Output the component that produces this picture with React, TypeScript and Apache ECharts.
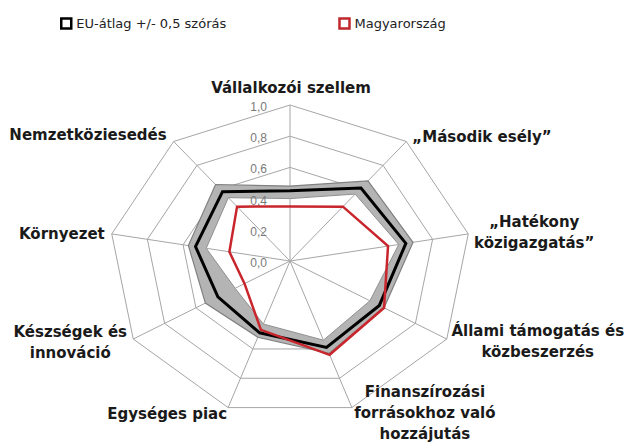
import React, { useEffect, useRef } from 'react';
import * as echarts from 'echarts';

// ---- data ----
const indicators = [
  'Vállalkozói szellem',
  '„Második esély”',
  '„Hatékony\nközigazgatás”',
  'Állami támogatás és\nközbeszerzés',
  'Finanszírozási\nforrásokhoz való\nhozzájutás',
  'Egységes piac',
  'Készségek és\ninnováció',
  'Környezet',
  'Nemzetköziesedés',
];
const euMean = [0.45, 0.61, 0.65, 0.57, 0.59, 0.49, 0.46, 0.53, 0.58];
const euUpper = [0.48, 0.67, 0.69, 0.6, 0.63, 0.52, 0.54, 0.57, 0.64];
const euLower = [0.4, 0.56, 0.61, 0.51, 0.54, 0.43, 0.35, 0.47, 0.53];
const hungary = [0.35, 0.455, 0.55, 0.6, 0.64, 0.47, 0.29, 0.34, 0.455];
const tickValues = [0, 0.2, 0.4, 0.6, 0.8, 1.0];
const tickLabels = ['0,0', '0,2', '0,4', '0,6', '0,8', '1,0'];
const ringValues = [0.2, 0.4, 0.6, 0.8, 1.0];
const legendNames = ['EU-átlag +/- 0,5 szórás', 'Magyarország'];

// ---- layout ----
const W = 625;
const H = 445;
const CX = 290;
const CY = 261;
const RX = 181;
const RY = 156;
const labelLayout: [number, number, string][] = [
  [1, -17, 'center'],
  [6, -4, 'left'],
  [66, -1, 'center'],
  [91, 2, 'center'],
  [73, 5, 'center'],
  [-1, 6, 'right'],
  [-63, 3, 'center'],
  [-7, 0, 'right'],
  [-7, -6, 'right'],
];

const GRID = '#a6a6a6';
const N = indicators.length;

function polar(v: number, i: number): [number, number] {
  const a = ((90 - (i * 360) / N) * Math.PI) / 180;
  return [v * Math.cos(a), v * Math.sin(a)];
}

function pts(api: any, vals: number[]) {
  return vals.map((v, i) => api.coord(polar(v, i)));
}

export default function App() {
  const ref = useRef<HTMLDivElement>(null);
  useEffect(() => {
    const chart = echarts.init(ref.current!, null, { renderer: 'svg' });
    const base = {
      type: 'custom',
      coordinateSystem: 'cartesian2d',
      data: [[0, 0]],
      clip: false,
      silent: true,
    };
    const option: any = {
      animation: false,
      backgroundColor: '#fff',
      grid: { left: 0, right: 0, top: 0, bottom: 0 },
      xAxis: { type: 'value', min: -CX / RX, max: (W - CX) / RX, show: false },
      yAxis: { type: 'value', min: -(H - CY) / RY, max: CY / RY, show: false },
      legend: {
        left: 55,
        top: 12,
        itemWidth: 10,
        itemHeight: 10,
        itemGap: 112,
        selectedMode: false,
        textStyle: { fontFamily: 'DejaVu Sans', fontSize: 13, color: '#222' },
        data: [
          { name: legendNames[0], icon: 'rect', itemStyle: { color: '#fff', borderColor: '#000', borderWidth: 2.5 } },
          { name: legendNames[1], icon: 'rect', itemStyle: { color: '#fff', borderColor: '#c0272d', borderWidth: 2.5 } },
        ],
      },
      series: [
        {
          ...base,
          name: 'grid',
          z: 1,
          renderItem: (_p: any, api: any) => {
            const c = api.coord([0, 0]);
            const children: any[] = [];
            ringValues.forEach((r) => {
              children.push({
                type: 'polygon',
                shape: { points: pts(api, indicators.map(() => r)) },
                style: { fill: 'none', stroke: GRID, lineWidth: 1 },
              });
            });
            indicators.forEach((_n, i) => {
              const e = api.coord(polar(1, i));
              children.push({
                type: 'line',
                shape: { x1: c[0], y1: c[1], x2: e[0], y2: e[1] },
                style: { stroke: GRID, lineWidth: 1 },
              });
            });
            return { type: 'group', children };
          },
        },
        {
          ...base,
          name: 'upper',
          z: 2,
          renderItem: (_p: any, api: any) => ({
            type: 'polygon',
            shape: { points: pts(api, euUpper) },
            style: { fill: '#b4b4b4', stroke: '#808080', lineWidth: 1.2 },
          }),
        },
        {
          ...base,
          name: 'lower',
          z: 3,
          renderItem: (_p: any, api: any) => ({
            type: 'polygon',
            shape: { points: pts(api, euLower) },
            style: { fill: '#ffffff', stroke: '#909090', lineWidth: 1 },
          }),
        },
        {
          ...base,
          name: 'innerSpokes',
          z: 4,
          renderItem: (_p: any, api: any) => {
            const c = api.coord([0, 0]);
            return {
              type: 'group',
              children: euLower.map((v, i) => {
                const e = api.coord(polar(v, i));
                return {
                  type: 'line',
                  shape: { x1: c[0], y1: c[1], x2: e[0], y2: e[1] },
                  style: { stroke: GRID, lineWidth: 1 },
                };
              }),
            };
          },
        },
        {
          ...base,
          name: 'ticks',
          z: 5,
          renderItem: (_p: any, api: any) => ({
            type: 'group',
            children: tickValues.map((t, k) => {
              const p = api.coord([0, t]);
              return {
                type: 'text',
                x: p[0] - 23,
                y: p[1] + 2,
                style: {
                  text: tickLabels[k],
                  fill: '#7a7a7a',
                  font: '12px "Liberation Sans", Arial, sans-serif',
                  align: 'right',
                  verticalAlign: 'middle',
                },
              };
            }),
          }),
        },
        {
          ...base,
          name: legendNames[0],
          z: 6,
          itemStyle: { color: '#000' },
          renderItem: (_p: any, api: any) => ({
            type: 'polygon',
            shape: { points: pts(api, euMean) },
            style: { fill: 'none', stroke: '#000', lineWidth: 3, lineJoin: 'miter' },
          }),
        },
        {
          ...base,
          name: legendNames[1],
          z: 7,
          itemStyle: { color: '#c0272d' },
          renderItem: (_p: any, api: any) => ({
            type: 'polygon',
            shape: { points: pts(api, hungary) },
            style: { fill: 'none', stroke: '#c8262c', lineWidth: 2.5, lineJoin: 'miter' },
          }),
        },
        {
          ...base,
          name: 'labels',
          z: 8,
          renderItem: (_p: any, api: any) => ({
            type: 'group',
            children: indicators.map((name, i) => {
              const p = api.coord(polar(1, i));
              const [dx, dy, align] = labelLayout[i];
              return {
                type: 'text',
                x: p[0] + dx,
                y: p[1] + dy,
                style: {
                  text: name,
                  fill: '#1a1a1a',
                  font: 'bold 15px "DejaVu Sans", sans-serif',
                  align,
                  verticalAlign: 'middle',
                  lineHeight: 21,
                },
              };
            }),
          }),
        },
      ],
    };
    chart.setOption(option);
    return () => chart.dispose();
  }, []);
  return (
    <div
      ref={ref}
      style={{ position: 'absolute', left: 0, top: 0, width: W, height: H }}
    />
  );
}
